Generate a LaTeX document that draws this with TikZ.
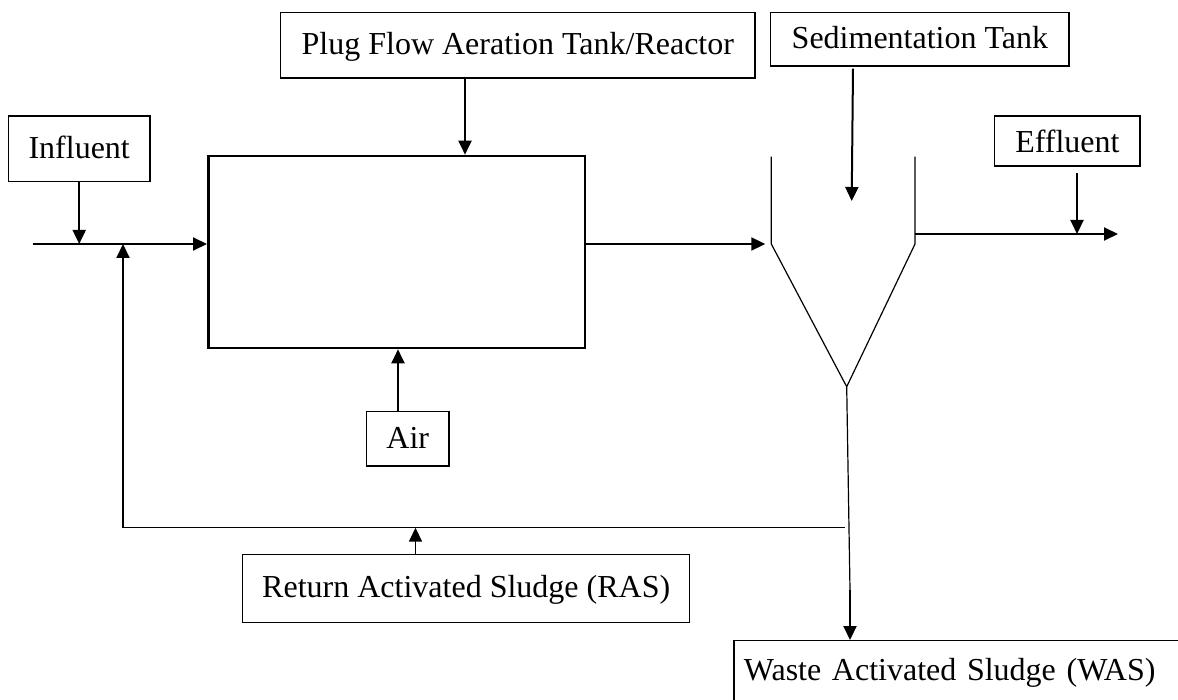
\documentclass[tikz,border=0pt]{standalone}
\usepackage{fontspec}
\setmainfont{Liberation Serif}
\usetikzlibrary{arrows.meta}
\begin{document}
\begin{tikzpicture}[x=1pt,y=-1pt,
  box/.style={draw,line width=1.2pt,inner sep=0pt,font=\fontsize{32}{38}\selectfont,text height=22.4pt,text depth=3.2pt},
  flow/.style={line width=2pt,-{Triangle[length=14pt,width=13pt]}},
  thinline/.style={line width=1.2pt}]
\clip (0,0) rectangle (1178,700);
% boxes
\node[box,minimum width=141.7pt,minimum height=65.7pt] (infl) at (79.2,148.9) {Influent};
\node[box,minimum width=474.5pt,minimum height=65.7pt] (plug) at (517.8,45.2) {Plug Flow Aeration Tank/Reactor};
\node[box,minimum width=298.3pt,minimum height=53.7pt] (sed) at (919.9,39.2) {Sedimentation Tank};
\node[box,minimum width=145.2pt,minimum height=50pt,text depth=0pt] (eff) at (1067.4,141) {Effluent};
\node[box,minimum width=82.4pt,minimum height=54.3pt] (air) at (407.8,438.9) {Air};
\node[box,minimum width=447pt,minimum height=68pt] (ras) at (466.2,588.3) {Return Activated Sludge (RAS)};
\node[box,anchor=north west,minimum width=500pt,minimum height=61pt,text width=480pt,align=left,inner xsep=10pt] (was) at (733.3,640) {Waste Activated Sludge (WAS)};
\node[draw,line width=2.6pt,minimum width=376.7pt,minimum height=192pt,inner sep=0pt] (reactor) at (396.65,252) {};
% coordinates
\coordinate (inS) at (32.7,244);
\coordinate (retC) at (123,527.7);
\coordinate (retE) at (845,527.7);
\coordinate (tlt) at (771.3,156.7);
\coordinate (tlb) at (771.3,244);
\coordinate (apex) at (846.7,386.7);
\coordinate (trb) at (915,244);
\coordinate (trt) at (915,156.7);
\coordinate (sedB) at (851.7,201);
\coordinate (effE) at (1118,234);
\coordinate (wmid) at (850,590);
% connectors
\draw[flow] (inS) -- (reactor.west |- inS);
\draw[flow] (infl.south) -- (infl.south |- inS);
\draw[flow] (retC) -- (retC |- inS);
\draw[thinline] (retC) -- (retE);
\draw[flow,line width=1.6pt] ([xshift=-50.7pt]ras.north) -- ([xshift=-50.7pt]ras.north |- retC);
\draw[flow] ([xshift=-52.8pt]plug.south) -- ([xshift=-52.8pt]plug.south |- reactor.north);
\draw[flow] ([xshift=-9.8pt]air.north) -- ([xshift=-9.8pt]air.north |- reactor.south);
\draw[flow] (reactor.east |- inS) -- ([xshift=-6pt]tlb);
\draw[thinline] (tlt) -- (tlb) -- (apex) -- (trb) -- (trt);
\draw[flow] ([xshift=-66.9pt,yshift=-2pt]sed.south) -- (sedB);
\draw[flow] (trt |- effE) -- (effE);
\draw[flow] ([xshift=9.6pt,yshift=-6.7pt]eff.south) -- ([xshift=9.6pt]eff.south |- effE);
\draw[thinline] (apex) -- (wmid);
\draw[flow] (wmid) -- (wmid |- was.north);
\end{tikzpicture}
\end{document}
